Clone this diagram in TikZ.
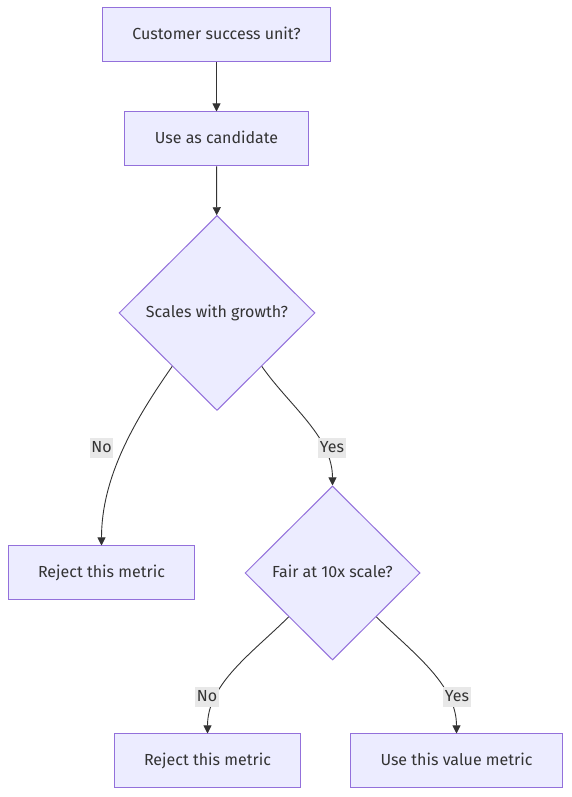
\documentclass[tikz,border=0pt]{standalone}
\usepackage{fontspec}
\setmainfont{Fira Sans}
\usepackage{xcolor}
\usepackage{tikz}
\usetikzlibrary{arrows.meta}
\usetikzlibrary{shapes.geometric}
\definecolor{node fill}{HTML}{ECECFF}
\definecolor{node line}{HTML}{9370DB}
\definecolor{ink}{HTML}{333333}
\definecolor{label fill}{HTML}{E8E8E8}
\tikzset{
process box/.style = { rectangle, draw = node line, fill = node fill, text = ink, line width = 1pt, minimum height = 54pt, inner xsep = 30pt, text height = 12pt, text depth = 3.5pt, font = \fontsize{16}{19}\selectfont },
decision box/.style = { diamond, draw = node line, fill = node fill, text = ink, line width = 1pt, inner sep = 0pt, text height = 12pt, text depth = 3.5pt, font = \fontsize{16}{19}\selectfont },
edge label/.style = { rectangle, fill = label fill, text = ink, inner xsep = 1.5pt, inner ysep = 2.5pt, text height = 12pt, text depth = 3.5pt, font = \fontsize{16}{19}\selectfont },
flow arrow/.style = { draw = ink, line width = 0.9pt, -{Triangle[length = 8pt, width = 8pt]} },
}
\begin{document}
\begin{tikzpicture}[x = 1pt, y = 1pt]
    \useasboundingbox (0, 0) rectangle (571, 797);
    \node[process box] (customer) at (216.5, 762) {Customer success unit?};
    \node[process box] (candidate) at (216.5, 658) {Use as candidate};
    \node[decision box, minimum width = 196pt, minimum height = 195pt] (scales) at (217, 484) {Scales with growth?};
    \node[process box] (reject a) at (101.5, 224) {Reject this metric};
    \node[decision box, minimum width = 175pt, minimum height = 174pt] (fair) at (332.5, 224) {Fair at 10x scale?};
    \node[process box] (reject b) at (207.5, 36) {Reject this metric};
    \node[process box] (use value) at (456.5, 36) {Use this value metric};
    \draw[flow arrow] (customer) -- (candidate);
    \draw[flow arrow] (candidate) -- (scales);
    \draw[flow arrow] (scales.230) to[out = 235, in = 90, looseness = 0.9] (reject a.north);
    \draw[flow arrow] (scales.310) to[out = 305, in = 90, looseness = 0.9] (fair.north);
    \draw[flow arrow] (fair.225) to[out = 225, in = 90, looseness = 0.9] (reject b.north);
    \draw[flow arrow] (fair.315) to[out = 315, in = 90, looseness = 0.9] (use value.north);
    \node[edge label] (no a) at (101.5, 349) {No};
    \node[edge label] (yes a) at (332, 349) {Yes};
    \node[edge label] (no b) at (207, 100) {No};
    \node[edge label] (yes b) at (457, 100) {Yes};
\end{tikzpicture}
\end{document}
